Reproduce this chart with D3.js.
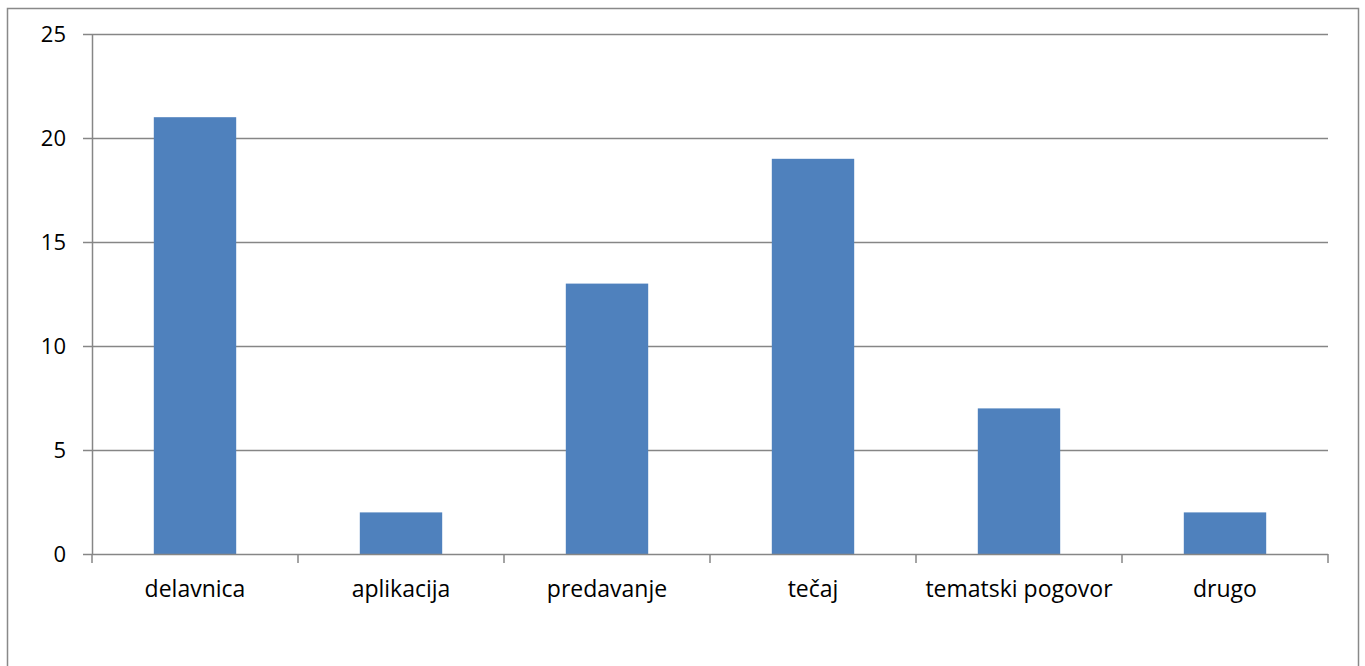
<!DOCTYPE html>
<html>
<head>
<meta charset="utf-8">
<script src="https://cdn.jsdelivr.net/npm/d3@7"></script>
<style>
  body { margin: 0; background: #fff; }
  text { font-family: "Open Sans", sans-serif; font-size: 22px; fill: #000; }
  .xlabel { font-size: 23px; }
</style>
</head>
<body>
<div id="chart"></div>
<script>
var categories = ["delavnica", "aplikacija", "predavanje", "tečaj", "tematski pogovor", "drugo"];
var values = [21, 2, 13, 19, 7, 2];
var yTicks = [0, 5, 10, 15, 20, 25];

var width = 1365, height = 666;
var margin = {left: 92, right: 37, top: 34, bottom: 112};
var plotW = width - margin.left - margin.right,
    plotH = height - margin.top - margin.bottom;

var svg = d3.select("#chart").append("svg")
    .attr("width", width)
    .attr("height", height);

// outer chart border
svg.append("rect")
    .attr("x", 7.5).attr("y", 8.5)
    .attr("width", 1351).attr("height", 680)
    .attr("fill", "none")
    .attr("stroke", "#898989")
    .attr("stroke-width", 1.5);

var g = svg.append("g")
    .attr("transform", "translate(" + margin.left + "," + margin.top + ")");

var x = d3.scaleBand()
    .domain(categories)
    .range([0, plotW])
    .paddingInner(0.6)
    .paddingOuter(0.3);

var y = d3.scaleLinear()
    .domain([0, 25])
    .range([plotH, 0]);

// gridlines
g.selectAll(".grid")
  .data(yTicks.slice(1))
  .enter().append("line")
    .attr("x1", 0).attr("x2", plotW)
    .attr("y1", function(d) { return Math.round(y(d)) + 0.5; })
    .attr("y2", function(d) { return Math.round(y(d)) + 0.5; })
    .attr("stroke", "#868686")
    .attr("stroke-width", 1.5);

// bars
g.selectAll(".bar")
  .data(values)
  .enter().append("rect")
    .attr("x", function(d, i) { return x(categories[i]); })
    .attr("y", function(d) { return y(d); })
    .attr("width", x.bandwidth())
    .attr("height", function(d) { return plotH - y(d); })
    .attr("fill", "#4F81BD");

// y axis
var yAxis = g.append("g")
    .call(d3.axisLeft(y).tickValues(yTicks).tickSize(9).tickSizeOuter(0).tickPadding(17));
yAxis.attr("font-size", null).attr("font-family", null);
yAxis.selectAll("line, path").attr("stroke", "#868686").attr("stroke-width", 1.5);
yAxis.selectAll("text").attr("fill", "#000");
yAxis.select(".domain").attr("d", "M0.5," + plotH + "V0");

// x axis with ticks at category boundaries
var xAxisG = g.append("g").attr("transform", "translate(0," + plotH + ")");
xAxisG.append("line")
    .attr("x1", 0).attr("x2", plotW)
    .attr("y1", 0.5).attr("y2", 0.5)
    .attr("stroke", "#868686").attr("stroke-width", 1.5);
xAxisG.selectAll(".xtick")
  .data(d3.range(categories.length + 1))
  .enter().append("line")
    .attr("x1", function(i) { return i * x.step(); })
    .attr("x2", function(i) { return i * x.step(); })
    .attr("y1", 0).attr("y2", 9)
    .attr("stroke", "#868686").attr("stroke-width", 1.5);
xAxisG.selectAll(".xlabel")
  .data(categories)
  .enter().append("text")
    .attr("class", "xlabel")
    .attr("x", function(d) { return x(d) + x.bandwidth() / 2; })
    .attr("y", 43)
    .attr("text-anchor", "middle")
    .text(function(d) { return d; });
</script>
</body>
</html>
